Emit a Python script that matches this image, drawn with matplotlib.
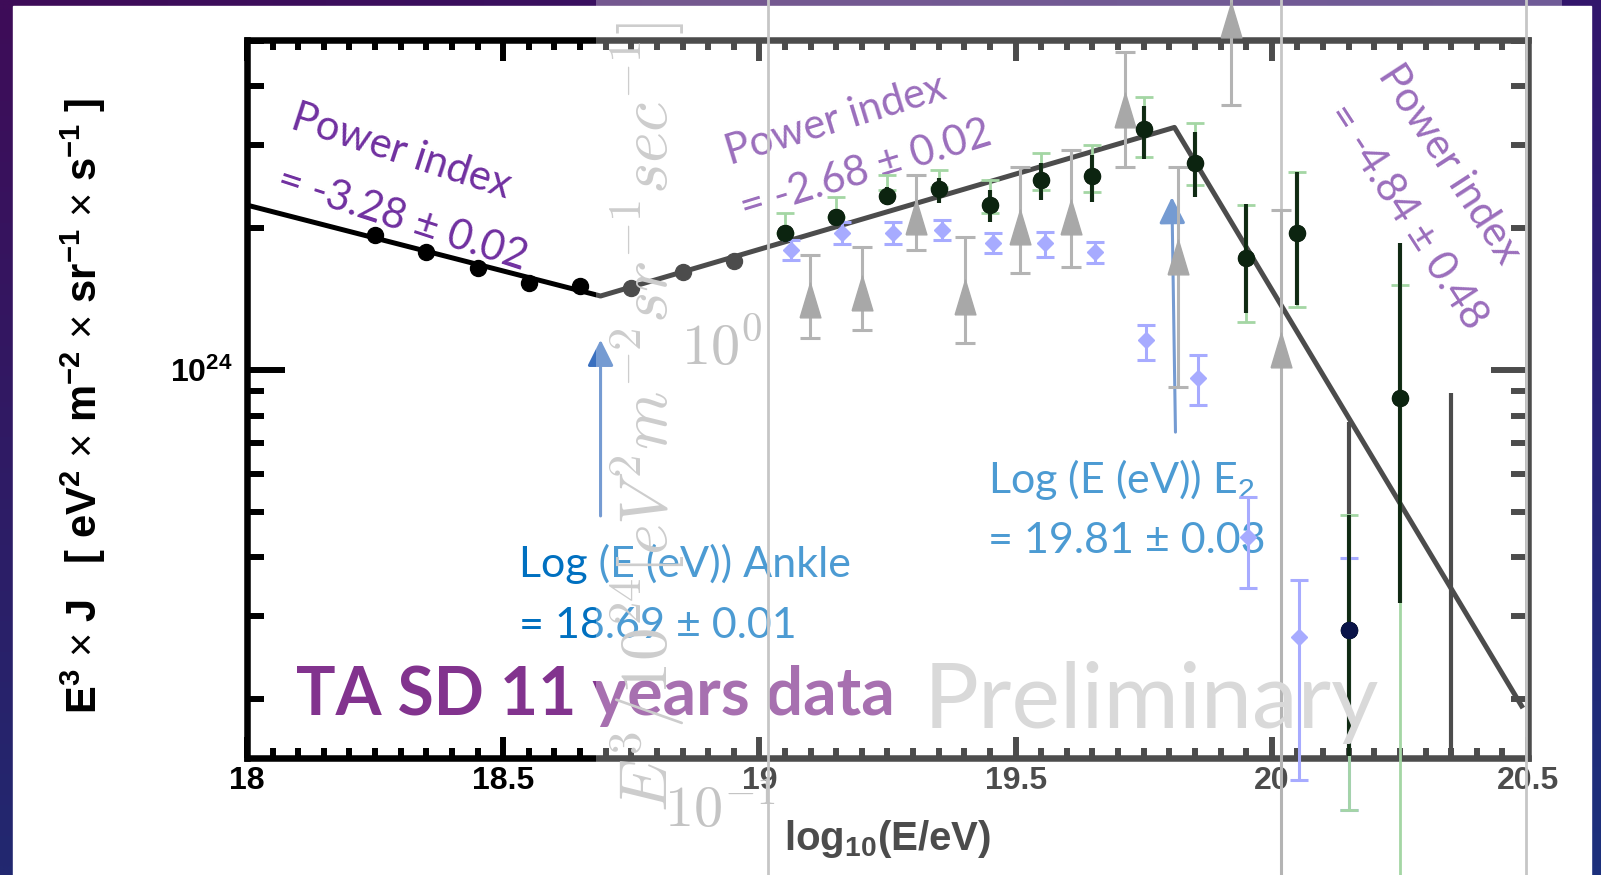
import numpy as np
import matplotlib
matplotlib.use("Agg")
import matplotlib.pyplot as plt
from matplotlib import font_manager
from matplotlib.patches import Rectangle
from matplotlib.ticker import MultipleLocator, LogLocator, NullFormatter

plt.rcParams["font.family"] = ["Liberation Sans", "DejaVu Sans"]
plt.rcParams["mathtext.fontset"] = "custom"
plt.rcParams["mathtext.rm"] = "Liberation Sans"
plt.rcParams["mathtext.it"] = "Liberation Sans:italic"
plt.rcParams["mathtext.bf"] = "Liberation Sans:bold"

W, H = 1601, 875

# TA SD spectrum: log10(E/eV) and log10(E^3 J)
log_e = [18.25, 18.35, 18.45, 18.55, 18.65, 18.75, 18.85, 18.95, 19.05, 19.15, 19.25,
         19.35, 19.45, 19.55, 19.65, 19.75, 19.85, 19.95, 20.05, 20.15, 20.25, 20.35]
log_flux = [24.287, 24.251, 24.216, 24.185, 24.178, 24.174, 24.208, 24.232, 24.291, 24.325, 24.369,
            24.384, 24.350, 24.403, 24.412, 24.512, 24.439, 24.238, 24.291, 23.448, 23.940, 23.10]
err_top = [24.287, 24.251, 24.216, 24.185, 24.178, 24.174, 24.208, 24.232, 24.291, 24.325, 24.389,
           24.408, 24.382, 24.439, 24.456, 24.561, 24.505, 24.352, 24.420, 23.890, 24.270, 23.951]
err_bot = [24.287, 24.251, 24.216, 24.185, 24.178, 24.174, 24.208, 24.232, 24.291, 24.325, 24.350,
           24.355, 24.314, 24.361, 24.357, 24.448, 24.367, 24.121, 24.138, 22.90, 23.505, 22.90]

# broken power law fit (break points at 18.69 and 19.81)
fit_e = [18.0, 18.69, 19.81, 20.49]
fit_flux = [24.350, 24.157, 24.515, 23.282]

# overlaid (faded) picture: its data points
ov_e = [19.05, 19.15, 19.25, 19.35, 19.45, 19.55, 19.65, 19.75, 19.85, 19.95, 20.05, 20.15, 20.25]
ov_flux = [24.291, 24.325, 24.369, 24.384, 24.350, 24.403, 24.412, 24.512, 24.439, 24.238, 24.291, 23.448, 23.940]
ov_top = [24.291, 24.325, 24.389, 24.408, 24.382, 24.439, 24.456, 24.561, 24.505, 24.352, 24.420, 23.692, 24.270]
ov_bot = [24.291, 24.325, 24.350, 24.355, 24.314, 24.361, 24.357, 24.448, 24.367, 24.121, 24.138, 23.180, 23.505]
grn_top = [24.333, 24.367, 24.414, 24.425, 24.403, 24.461, 24.478, 24.580, 24.524, 24.350, 24.420, 23.692, 24.180]
grn_bot = [24.291, 24.325, 24.382, 24.389, 24.333, 24.382, 24.378, 24.452, 24.393, 24.102, 24.134, 23.066, 22.90]

tri_e = [19.098, 19.201, 19.305, 19.402, 19.508, 19.609, 19.713, 19.816, 19.920, 20.018]
tri_flux = [24.149, 24.163, 24.325, 24.155, 24.304, 24.325, 24.552, 24.240, 24.743, 24.042]
tri_top = [24.244, 24.261, 24.414, 24.282, 24.431, 24.467, 24.675, 24.431, 24.850, 24.340]
tri_bot = [24.068, 24.085, 24.255, 24.057, 24.206, 24.219, 24.431, 23.964, 24.563, 22.90]

blu_e = [19.062, 19.162, 19.260, 19.357, 19.455, 19.557, 19.654, 19.754, 19.855, 19.953, 20.053, 20.15]
blu_flux = [24.255, 24.291, 24.291, 24.297, 24.270, 24.270, 24.251, 24.064, 23.983, 23.645, 23.433, 23.448]
blu_top = [24.276, 24.314, 24.314, 24.318, 24.291, 24.293, 24.272, 24.096, 24.032, 23.730, 23.554, 23.601]
blu_bot = [24.234, 24.268, 24.268, 24.276, 24.249, 24.240, 24.227, 24.021, 23.926, 23.537, 23.130, 23.066]
grid_e = [19.016, 20.018, 20.497]

xtick_vals = [18, 18.5, 19, 19.5, 20, 20.5]
xtick_labels = ["18", "18.5", "19", "19.5", "20", "20.5"]


def px(x, y):
    return x / W, 1 - y / H


def p10(a):
    return 10 ** np.asarray(a)


fig = plt.figure(figsize=(W / 100, H / 100), dpi=100)

# slide background
bg = fig.add_axes([0, 0, 1, 1], zorder=-10)
gx, gy = np.meshgrid(np.linspace(0, 1, 80), np.linspace(0, 1, 50))
tl, bl = np.array([62, 12, 88]), np.array([34, 40, 112])
tr, br = np.array([50, 22, 108]), np.array([28, 48, 124])
grad = ((1 - gx)[..., None] * ((1 - gy)[..., None] * tl + gy[..., None] * bl)
        + gx[..., None] * ((1 - gy)[..., None] * tr + gy[..., None] * br)) / 255
bg.imshow(grad, extent=(0, W, H, 0), aspect="auto", interpolation="bilinear")
bg.add_patch(Rectangle((13, 6), 1591 - 13, H, color="white"))
bg.set_xlim(0, W)
bg.set_ylim(H, 0)
bg.axis("off")

# main plot
ax = fig.add_axes([247 / W, 1 - 758 / H, (1528 - 247) / W, (758 - 40) / H])
ax.set_yscale("log")
ax.plot(fit_e, p10(fit_flux), color="black", lw=3.6, solid_capstyle="butt", zorder=2)
ax.vlines(log_e, p10(err_bot), p10(err_top), color="black", lw=3, zorder=3)
ax.plot(log_e, p10(log_flux), "o", color="black", ms=11.5, zorder=3)
ax.set_xlim(18, 20.5)
ax.set_ylim(10 ** 23.176, 10 ** 24.7006)

ax.set_xticks(xtick_vals, xtick_labels)
ax.xaxis.set_minor_locator(MultipleLocator(0.05))
ax.set_yticks([1e24], [r"$\mathbf{10^{24}}$"])
ax.yaxis.set_minor_locator(LogLocator(base=10, subs=np.arange(2, 10) * 1.0, numticks=20))
ax.yaxis.set_minor_formatter(NullFormatter())
ax.tick_params(which="both", direction="in", top=True, right=True, width=4.3, color="black")
ax.tick_params(axis="x", which="major", length=15, labelsize=23, pad=6)
ax.tick_params(axis="x", which="minor", length=7)
ax.tick_params(axis="y", which="major", length=27, labelsize=23, pad=10)
ax.tick_params(axis="y", which="minor", length=12)
for lab in ax.get_xticklabels():
    lab.set_fontweight("bold")
for sp in ax.spines.values():
    sp.set_linewidth(4.7)
    sp.set_color("black")

ax.set_xlabel(r"log$_{\mathbf{10}}$(E/eV)", fontsize=29, fontweight="bold")
ax.xaxis.set_label_coords(0.5, -0.128)
ax.xaxis.label.set_va("baseline")
ax.set_ylabel(r"E$^{\mathbf{3}}$ $\times$ J   [ eV$^{\mathbf{2}}$ $\times$ m$^{\mathbf{-2}}$ $\times$ "
              r"sr$^{\mathbf{-1}}$ $\times$ s$^{\mathbf{-1}}$ ]", fontsize=30, fontweight="bold")
ax.yaxis.set_label_coords(-0.128, 0.49)
ax.yaxis.label.set_va("center")

# arrows marking the breaks
acol = "#3a70bf"
ax.annotate("", xy=(18.69, 10 ** 24.064), xytext=(18.69, 10 ** 23.690),
            arrowprops=dict(arrowstyle="-|>,head_length=0.8,head_width=0.4", color=acol,
                            lw=2.2, mutation_scale=20, shrinkA=0, shrinkB=0))
ax.annotate("", xy=(19.805, 10 ** 24.367), xytext=(19.812, 10 ** 23.868),
            arrowprops=dict(arrowstyle="-|>,head_length=0.8,head_width=0.4", color=acol,
                            lw=2.2, mutation_scale=20, shrinkA=0, shrinkB=0))

# slide annotations
purple, blue = "#7030a0", "#0070c0"
tk = dict(ha="left", va="baseline", rotation_mode="anchor", family="Lato", zorder=3)
fig.text(*px(289, 128), "Power index", color=purple, fontsize=30, rotation=-18, **tk)
fig.text(*px(275, 190), "= -3.28 \u00b1 0.02", color=purple, fontsize=30, rotation=-18, **tk)
fig.text(*px(730, 165), "Power index", color=purple, fontsize=30, rotation=17, **tk)
fig.text(*px(745, 220), "= -2.68 \u00b1 0.02", color=purple, fontsize=30, rotation=17, **tk)
fig.text(*px(1377, 75), "Power index", color=purple, fontsize=30, rotation=-57, **tk)
fig.text(*px(1326, 114), "= -4.84 \u00b1 0.48", color=purple, fontsize=30, rotation=-57, **tk)
fig.text(*px(519, 577), "Log (E (eV)) Ankle", color=blue, fontsize=31, **tk)
fig.text(*px(519, 638), "= 18.69 \u00b1 0.01", color=blue, fontsize=31, **tk)
fig.text(*px(988, 493), r"Log (E (eV)) E$_2$", color=blue, fontsize=31, **tk)
fig.text(*px(988, 553), "= 19.81 \u00b1 0.03", color=blue, fontsize=31, **tk)
fig.text(*px(296, 715), "TA SD 11 years data", color="#82338e", fontsize=47.5, fontweight="bold", **tk)

# semi-transparent picture pasted over the right part of the slide
fig.patches.append(Rectangle(px(596, H), (1562 - 596) / W, 1, transform=fig.transFigure,
                             facecolor="white", alpha=0.3, zorder=5))

ax2 = fig.add_axes(ax.get_position(), zorder=6)
ax2.set_yscale("log")
ax2.set_xlim(ax.get_xlim())
ax2.set_ylim(ax.get_ylim())
ax2.axis("off")
for g in grid_e:
    ax2.axvline(g, ymin=-0.2, ymax=1.1, color="#c6c6c6", lw=2.0, clip_on=False, zorder=1)


def bars(a, x, lo, hi, color, lw, cap, z=2):
    a.vlines(x, p10(lo), p10(hi), color=color, lw=lw, zorder=z, clip_on=False)
    if cap:
        for ends in (lo, hi):
            a.plot(x, p10(ends), ls="none", marker="_", ms=cap, mew=lw, color=color,
                   zorder=z, clip_on=False)


tri_marker = [(-0.6, -1), (0.6, -1), (0, 1), (-0.6, -1)]
bars(ax2, tri_e, tri_bot, tri_top, "#b4b4b4", 2.2, 15)
ax2.plot(tri_e, p10(tri_flux), ls="none", marker=tri_marker, ms=25, color="#a8a8a8",
         clip_on=False, zorder=2)
bars(ax2, blu_e, blu_bot, blu_top, "#a7abff", 2.2, 13, z=3)
ax2.plot(blu_e, p10(blu_flux), ls="none", marker="D", ms=8, color="#a7abff", clip_on=False, zorder=3)
bars(ax2, ov_e, grn_bot, grn_top, "#a4d6a4", 2.0, 13, z=3)
bars(ax2, ov_e, ov_bot, ov_top, "#0f2a12", 2.8, 0, z=4)
ax2.plot(ov_e, p10(ov_flux), "o", ms=11.5, color="#0c2410", clip_on=False, zorder=5)
ax2.plot(ov_e[11:12], p10(ov_flux[11:12]), "o", ms=11.5, color="#0a1448", zorder=6)

# faded texts of the pasted picture
names = {f.name for f in font_manager.fontManager.ttflist}
if "Liberation Sans Narrow" in names:
    prelim = dict(family="Liberation Sans Narrow", fontsize=78)
else:
    prelim = dict(family="Lato", fontsize=66)
fk = dict(rotation_mode="anchor", zorder=7)
fig.text(*px(924, 728), "Preliminary", color="#d9d9d9", ha="left", va="baseline", **prelim, **fk)
fig.text(*px(722, 348), r"$10^0$", color="#c4c4c4", fontsize=42, math_fontfamily="cm",
         ha="center", va="center", **fk)
fig.text(*px(720, 812), r"$10^{-1}$", color="#c4c4c4", fontsize=42, math_fontfamily="cm",
         ha="center", va="center", **fk)
fig.text(*px(648, 812), r"$E^3/10^{24}[eV^2m^{-2}sr^{-1}sec^{-1}]$", color="#cdcdcd",
         fontsize=48, math_fontfamily="cm", rotation=90, ha="left", va="center", **fk)

fig.savefig("out.png", dpi=100)
